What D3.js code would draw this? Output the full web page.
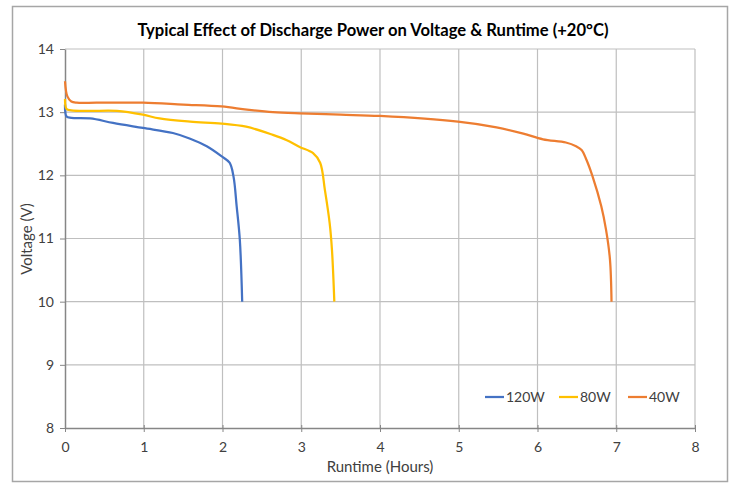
<!DOCTYPE html>
<html>
<head>
<meta charset="utf-8">
<script src="https://cdn.jsdelivr.net/npm/d3@7"></script>
<style>
  body { margin: 0; background: #fff; }
  svg { font-family: Lato, "Open Sans", sans-serif; }
</style>
</head>
<body>
<svg id="chart" width="737" height="485"></svg>
<script>
// runtime (hours) / voltage (V)
const hours120 = [0, 0.02, 0.08, 0.32, 0.61, 0.99, 1.37, 1.59, 1.80, 1.99, 2.09, 2.14, 2.18, 2.22, 2.25];
const volts120 = [13.12, 12.93, 12.91, 12.90, 12.83, 12.75, 12.67, 12.58, 12.46, 12.30, 12.20, 11.98, 11.51, 10.98, 10.0];

const hours80 = [0, 0.02, 0.08, 0.3, 0.66, 0.99, 1.2, 1.59, 1.99, 2.30, 2.64, 2.81, 2.98, 3.15, 3.24, 3.30, 3.36, 3.39, 3.42];
const volts80 = [13.21, 13.05, 13.03, 13.02, 13.02, 12.96, 12.90, 12.85, 12.82, 12.77, 12.64, 12.56, 12.45, 12.35, 12.20, 11.77, 11.25, 10.82, 10.0];

const hours40 = [0, 0.03, 0.08, 0.15, 0.4, 0.99, 1.5, 1.99, 2.31, 2.64, 2.98, 3.5, 4.0, 4.99, 5.48, 5.82, 6.07, 6.36, 6.49, 6.56, 6.62, 6.70, 6.81, 6.87, 6.92, 6.94];
const volts40 = [13.49, 13.25, 13.17, 13.15, 13.15, 13.15, 13.12, 13.09, 13.04, 13.00, 12.98, 12.96, 12.94, 12.85, 12.76, 12.66, 12.57, 12.52, 12.46, 12.40, 12.25, 11.98, 11.51, 11.14, 10.67, 10.0];

const seriesNames = ["120W", "80W", "40W"];
const seriesColors = ["#4472C4", "#FFC000", "#ED7D31"];
const xTicks = [0, 1, 2, 3, 4, 5, 6, 7, 8];
const yTicks = [8, 9, 10, 11, 12, 13, 14];

const series = [
    { name: seriesNames[0], color: seriesColors[0], pts: d3.zip(hours120, volts120) },
    { name: seriesNames[1], color: seriesColors[1], pts: d3.zip(hours80, volts80) },
    { name: seriesNames[2], color: seriesColors[2], pts: d3.zip(hours40, volts40) }
];

const svg = d3.select("#chart");
const plot = { left: 65, right: 695, top: 49, bottom: 428 };

const x = d3.scaleLinear().domain([0, 8]).range([plot.left, plot.right]);
const y = d3.scaleLinear().domain([8, 14]).range([plot.bottom, plot.top]);

// outer frame
svg.append("rect")
    .attr("x", 12.5).attr("y", 6.5)
    .attr("width", 715).attr("height", 475)
    .attr("fill", "#fff")
    .attr("stroke", "#a6a6a6")
    .attr("stroke-width", 1.5);

svg.append("text")
    .attr("x", 373).attr("y", 36)
    .attr("text-anchor", "middle")
    .attr("font-size", 16.6)
    .attr("font-weight", "bold")
    .attr("fill", "#000")
    .text("Typical Effect of Discharge Power on Voltage & Runtime (+20°C)");

// grid
const grid = svg.append("g").attr("stroke", "#bfbfbf").attr("stroke-width", 1.2);
grid.selectAll("line.v").data(xTicks.slice(1)).join("line")
    .attr("class", "v")
    .attr("x1", d => x(d)).attr("x2", d => x(d))
    .attr("y1", plot.top).attr("y2", plot.bottom);
grid.selectAll("line.h").data(yTicks.slice(1)).join("line")
    .attr("class", "h")
    .attr("x1", plot.left).attr("x2", plot.right)
    .attr("y1", d => y(d)).attr("y2", d => y(d));

// axes
const xAxis = d3.axisBottom(x).tickValues(xTicks).tickFormat(d3.format("d"))
    .tickSizeInner(4).tickSizeOuter(0).tickPadding(10);
const yAxis = d3.axisLeft(y).tickValues(yTicks).tickFormat(d3.format("d"))
    .tickSizeInner(5).tickSizeOuter(0).tickPadding(6);

const gx = svg.append("g").attr("transform", `translate(0,${plot.bottom})`).call(xAxis);
const gy = svg.append("g").attr("transform", `translate(${plot.left},0)`).call(yAxis);

[gx, gy].forEach(g => {
    g.select(".domain").attr("stroke", "#868686").attr("stroke-width", 1.5);
    g.selectAll(".tick line").attr("stroke", "#868686");
    g.selectAll(".tick text").attr("font-size", 14).attr("fill", "#404040")
        .attr("font-family", "Lato, 'Open Sans', sans-serif");
});
gx.selectAll(".tick line").attr("y1", -3);

// series lines
const line = d3.line()
    .x(d => x(d[0]))
    .y(d => y(d[1]))
    .curve(d3.curveCatmullRom.alpha(0.5));

svg.append("g").selectAll("path").data(series).join("path")
    .attr("d", d => line(d.pts))
    .attr("fill", "none")
    .attr("stroke", d => d.color)
    .attr("stroke-width", 2.25)
    .attr("stroke-linejoin", "round");

// axis titles
svg.append("text")
    .attr("x", 380).attr("y", 472)
    .attr("text-anchor", "middle")
    .attr("font-size", 15).attr("fill", "#404040")
    .text("Runtime (Hours)");

svg.append("text")
    .attr("transform", "translate(32,239) rotate(-90)")
    .attr("text-anchor", "middle")
    .attr("font-size", 15).attr("fill", "#404040")
    .text("Voltage (V)");

// legend
const legendX = [485, 559, 628];
const lg = svg.append("g").selectAll("g").data(series).join("g")
    .attr("transform", (d, i) => `translate(${legendX[i]},397)`);
lg.append("line")
    .attr("x1", 0).attr("x2", 19)
    .attr("stroke", d => d.color).attr("stroke-width", 2.25);
lg.append("text")
    .attr("x", 21).attr("y", 5)
    .attr("font-size", 14).attr("fill", "#404040")
    .text(d => d.name);
</script>
</body>
</html>
